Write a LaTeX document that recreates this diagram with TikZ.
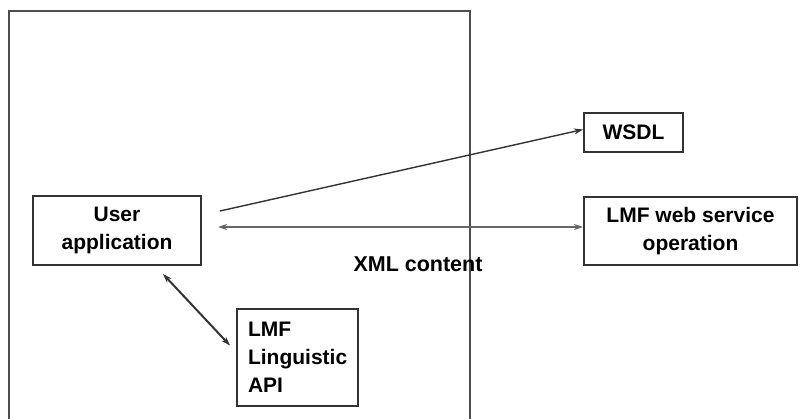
\documentclass[tikz,border=0pt]{standalone}
\usepackage{fontspec}
\setmainfont{Liberation Sans}
\usepackage{xcolor}
\usepackage{tikz}
\usetikzlibrary{arrows.meta,positioning}
\definecolor{framegray}{HTML}{4D4D4D}
\definecolor{boxgray}{HTML}{333333}
\definecolor{linkgray}{HTML}{666666}

\begin{document}
\begin{tikzpicture}[x=1pt,y=-1pt,
  box/.style={rectangle,draw=boxgray,line width=2pt,align=center,
    font=\fontsize{21}{28}\selectfont\bfseries,inner sep=0pt},
  arrow/.style={-{Stealth[length=9pt,width=6pt]},line width=1.4pt,color=boxgray},
  link/.style={{Stealth[length=9pt,width=6pt]}-{Stealth[length=9pt,width=6pt]},
    line width=1.4pt,color=linkgray}
]
  \useasboundingbox (0,0) rectangle (800,419);
  \draw[framegray,line width=2.5pt] (9,419) -- (9,11) -- (470,11) -- (470,419);

  \node[box,minimum width=168pt,minimum height=69pt] (app) at (117,230.5) {User\\application};
  \node[box,minimum width=99pt,minimum height=39pt] (wsdl) at (633.5,132.5) {WSDL};
  \node[box,minimum width=213pt,minimum height=68pt] (ws) at (690.5,231) {LMF web service\\operation};
  \node[box,align=left,text width=99pt,inner xsep=11pt,minimum height=97pt] (api) at (297.5,357.5) {LMF\\Linguistic\\API};
  \node[font=\fontsize{21.5}{28}\selectfont\bfseries] (xml) at (418,264) {XML content};

  \coordinate (wsdlsrc) at (220,211);
  \draw[arrow] (wsdlsrc) -- ([yshift=3pt]wsdl.west);
  \draw[link] ([xshift=16pt,yshift=3.5pt]app.east) -- ([yshift=4pt]ws.west);
  \draw[link,color=boxgray,line width=2pt] ([xshift=46pt,yshift=-8pt]app.south) -- ([xshift=-6pt,yshift=12pt]api.west);
\end{tikzpicture}
\end{document}
